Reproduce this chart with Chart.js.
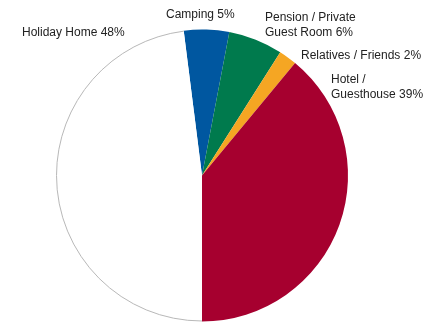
<!DOCTYPE html>
<html>
<head>
<meta charset="utf-8">
<script src="https://cdn.jsdelivr.net/npm/chart.js@4/dist/chart.umd.min.js"></script>
<style>
  html, body { margin: 0; padding: 0; background: #fff; }
  #wrap { width: 423px; height: 324px; }
</style>
</head>
<body>
<div id="wrap"><canvas id="stayChart"></canvas></div>
<script>
// Accommodation types, clockwise from just left of twelve o'clock
const categories = ['Camping', 'Pension / Private\nGuest Room', 'Relatives / Friends', 'Hotel /\nGuesthouse', 'Holiday Home'];
const shares = [5, 6, 2, 39, 48];
const sliceColors = ['#0057a0', '#007a4d', '#f5a623', '#a6002f', '#ffffff'];
// white slice only gets its curved edge outlined
const outlined = [false, false, false, false, true];

// Where each label's first line sits (left edge, vertical middle)
const labelPos = [
    { x: 166, y: 15 },
    { x: 265, y: 18 },
    { x: 301, y: 56 },
    { x: 331, y: 80 },
    { x: 22, y: 33 }
];

const rimPlugin = {
    id: 'sliceRim',
    afterDatasetsDraw(chart) {
        const ctx = chart.ctx;
        const arcs = chart.getDatasetMeta(0).data;
        ctx.save();
        ctx.strokeStyle = '#b8b8b8';
        ctx.lineWidth = 1;
        arcs.forEach((arc, i) => {
            if (!outlined[i]) return;
            const p = arc.getProps(['x', 'y', 'startAngle', 'endAngle', 'outerRadius'], true);
            ctx.beginPath();
            ctx.arc(p.x, p.y, p.outerRadius - 0.5, p.startAngle, p.endAngle);
            ctx.stroke();
        });
        ctx.restore();
    }
};

const labelPlugin = {
    id: 'sliceLabels',
    afterDraw(chart) {
        const ctx = chart.ctx;
        ctx.save();
        ctx.font = '12px "Liberation Sans", Arial, sans-serif';
        ctx.fillStyle = '#222';
        ctx.textAlign = 'left';
        ctx.textBaseline = 'middle';
        categories.forEach((name, i) => {
            const lines = (name + ' ' + shares[i] + '%').split('\n');
            lines.forEach((line, j) => {
                ctx.fillText(line, labelPos[i].x, labelPos[i].y + j * 15);
            });
        });
        ctx.restore();
    }
};

document.addEventListener('DOMContentLoaded', function() {
    const ctx = document.getElementById('stayChart').getContext('2d');

    new Chart(ctx, {
        type: 'pie',
        data: {
            labels: categories,
            datasets: [{
                data: shares,
                backgroundColor: sliceColors,
                borderWidth: 0
            }]
        },
        options: {
            responsive: true,
            maintainAspectRatio: false,
            animation: false,
            rotation: -7.2,
            layout: {
                padding: { left: 56, right: 75, top: 29, bottom: 2 }
            },
            plugins: {
                legend: { display: false },
                tooltip: { enabled: false }
            }
        },
        plugins: [rimPlugin, labelPlugin]
    });
});
</script>
</body>
</html>
